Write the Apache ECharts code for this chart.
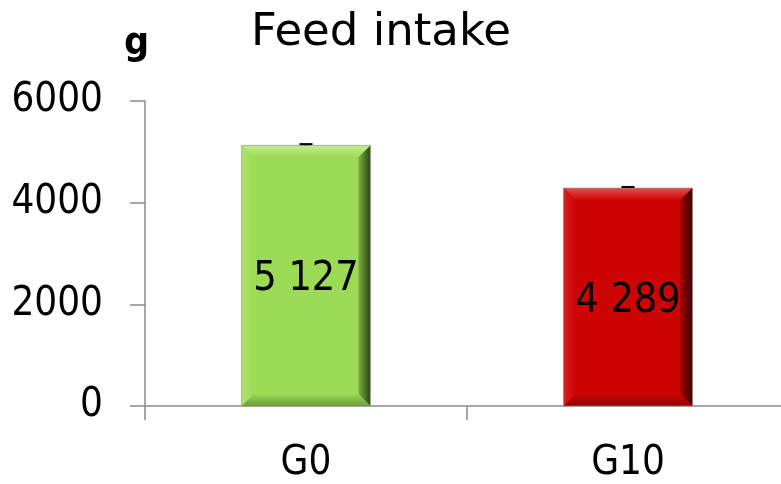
<!DOCTYPE html>
<html>
<head>
<meta charset="utf-8">
<script src="https://cdn.jsdelivr.net/npm/echarts@6/dist/echarts.min.js"></script>
<style>
  html, body { margin: 0; padding: 0; background: #fff; overflow: hidden; }
  #chart { width: 789px; height: 484px; }
</style>
</head>
<body>
<div id="chart"></div>
<script>
// Feed intake per group (g)
const categories = ['G0', 'G10'];
const intake = [5127, 4289];
const intakeError = [25, 20];
const valueLabels = ['5 127', '4 289'];
const yTicks = [0, 2000, 4000, 6000];

const FONT = "'DejaVu Sans Condensed', 'DejaVu Sans', sans-serif";
const TITLE_FONT = "'DejaVu Sans', sans-serif";

// face, light edge, dark edge, deep shade per bar
const palettes = [
  { face: '#9bdb55', top: '#c2ee92', left: '#ade56f', right: '#7ab044', rightEdge: '#2c4412', bottom: '#6a9c36' },
  { face: '#cc0404', top: '#e35050', left: '#d92020', right: '#a00000', rightEdge: '#3a0000', bottom: '#8e0202' }
];

const chart = echarts.init(document.getElementById('chart'), null, { renderer: 'canvas' });

function grad(x0, y0, x1, y1, c0, c1) {
  return new echarts.graphic.LinearGradient(x0, y0, x1, y1, [
    { offset: 0, color: c0 }, { offset: 1, color: c1 }
  ]);
}

function bevelItem(params, api) {
  const idx = api.value(0);
  const v = api.value(1);
  const top = api.coord([idx, v]);
  const base = api.coord([idx, 0]);
  const bw = api.size([1, 0])[0] * 0.4;
  const x0 = top[0] - bw / 2, x1 = top[0] + bw / 2;
  const y0 = top[1], y1 = base[1];
  const b = 12;
  const p = palettes[idx];
  return {
    type: 'group',
    silent: true,
    children: [
      { type: 'polygon', shape: { points: [[x0, y0], [x1, y0], [x1 - b, y0 + b], [x0 + b, y0 + b]] },
        style: { fill: grad(0, 0, 0, 1, p.top, p.face) } },
      { type: 'polygon', shape: { points: [[x0, y0], [x0 + b, y0 + b], [x0 + b, y1 - b], [x0, y1]] },
        style: { fill: grad(0, 0, 1, 0, p.left, p.face) } },
      { type: 'polygon', shape: { points: [[x1, y0], [x1, y1], [x1 - b, y1 - b], [x1 - b, y0 + b]] },
        style: { fill: grad(1, 0, 0, 0, p.rightEdge, p.right) } },
      { type: 'polygon', shape: { points: [[x0, y1], [x0 + b, y1 - b], [x1 - b, y1 - b], [x1, y1]] },
        style: { fill: grad(0, 1, 0, 0, p.bottom, p.face) } },
      { type: 'rect', shape: { x: x0, y: y0, width: bw, height: y1 - y0 },
        style: { fill: 'none', stroke: 'rgba(150,150,150,0.6)', lineWidth: 1 } }
    ]
  };
}

function errorItem(params, api) {
  const idx = api.value(0);
  const v = api.value(1);
  const e = api.value(2);
  const lo = api.coord([idx, v]);
  const hi = api.coord([idx, v + e]);
  const half = 6.5;
  return {
    type: 'group',
    children: [
      { type: 'line', shape: { x1: hi[0], y1: lo[1], x2: hi[0], y2: hi[1] },
        style: { stroke: '#000', lineWidth: 1.5 } },
      { type: 'line', shape: { x1: hi[0] - half, y1: hi[1], x2: hi[0] + half, y2: hi[1] },
        style: { stroke: '#000', lineWidth: 2 } }
    ]
  };
}

chart.setOption({
  animation: false,
  backgroundColor: '#ffffff',
  title: {
    text: 'Feed intake',
    left: 376,
    textAlign: 'center',
    top: 6,
    textStyle: { fontFamily: TITLE_FONT, fontSize: 45, fontWeight: 'normal', color: '#000' }
  },
  graphic: [{
    type: 'text',
    left: 124,
    top: 24,
    style: { text: 'g', font: 'bold 39px ' + FONT, fill: '#000' }
  }],
  grid: { left: 145, right: 0, top: 101, bottom: 77, containLabel: false },
  xAxis: {
    type: 'category',
    data: categories,
    axisLine: { lineStyle: { color: '#8c8c8c', width: 1.5 } },
    axisTick: { show: true, length: 14, lineStyle: { color: '#8c8c8c', width: 1.5 } },
    axisLabel: { fontFamily: FONT, fontSize: 40, color: '#000', margin: 38 }
  },
  yAxis: {
    type: 'value',
    min: yTicks[0],
    max: yTicks[yTicks.length - 1],
    interval: yTicks[1] - yTicks[0],
    axisLine: { show: true, lineStyle: { color: '#8c8c8c', width: 1.5 } },
    axisTick: { show: true, length: 15, lineStyle: { color: '#8c8c8c', width: 1.5 } },
    splitLine: { show: false },
    axisLabel: {
      fontFamily: FONT, fontSize: 40, color: '#000', margin: 42,
      formatter: (v) => String(v)
    }
  },
  series: [
    {
      type: 'bar',
      barWidth: '40%',
      data: intake.map((v, i) => ({ value: v, itemStyle: { color: palettes[i].face } })),
      label: {
        show: true,
        position: 'inside',
        offset: [0, 4],
        fontFamily: FONT,
        fontSize: 41,
        color: '#000',
        formatter: (p) => valueLabels[p.dataIndex]
      },
      z: 2
    },
    {
      type: 'custom',
      renderItem: bevelItem,
      data: intake.map((v, i) => [i, v]),
      z: 3
    },
    {
      type: 'custom',
      renderItem: errorItem,
      data: intake.map((v, i) => [i, v, intakeError[i]]),
      z: 4
    }
  ]
});
</script>
</body>
</html>
